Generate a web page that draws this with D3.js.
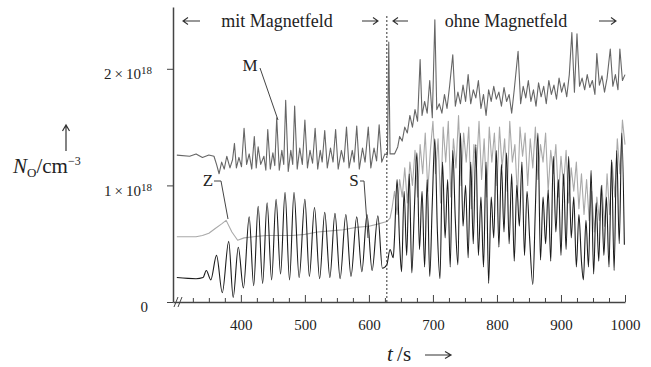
<!DOCTYPE html>
<html>
<head>
<meta charset="utf-8">
<script src="https://cdn.jsdelivr.net/npm/d3@7"></script>
<style>
  body { margin: 0; background: #fff; }
  svg { font-family: "Liberation Serif", "DejaVu Serif", serif; }
  .axis path, .axis line { stroke: #444; }
</style>
</head>
<body>
<svg id="chart" width="651" height="367"></svg>
<script>
// Werte in 10^18 cm^-3, Zeit in s
const seriesM = [
  [300,1.26],[320,1.25],[330,1.27],[340,1.24],[350,1.26],[358,1.25],[362,1.18],[366,1.1],[370,1.2],[374,1.14],
  [378,1.25],[383,1.15],[387,1.22],[390,1.36],[393,1.15],[397,1.24],[401,1.16],[405,1.49],[409,1.18],[413,1.27],
  [417,1.14],[421,1.42],[424,1.15],[427,1.33],[431,1.18],[436,1.25],[439,1.13],[442,1.48],[446,1.14],[450,1.28],
  [453,1.17],[456,1.58],[460,1.13],[464,1.3],[467,1.18],[470,1.73],[474,1.12],[478,1.3],[481,1.18],[484,1.68],
  [488,1.14],[492,1.32],[496,1.18],[500,1.56],[504,1.15],[508,1.3],[512,1.19],[516,1.49],[520,1.14],[524,1.3],
  [527,1.2],[531,1.47],[535,1.15],[540,1.32],[544,1.2],[548,1.48],[552,1.14],[557,1.3],[561,1.2],[565,1.5],
  [569,1.15],[574,1.3],[577,1.2],[581,1.51],[585,1.14],[590,1.32],[594,1.2],[599,1.5],[603,1.15],[608,1.32],
  [612,1.21],[616,1.52],[620,1.2],[625,1.27],[629,1.26],[631,2.23],[633,1.27],[640,1.27],[645,1.33],[648,1.42],
  [652,1.38],[656,1.5],[660,1.45],[664,1.6],[668,1.5],[672,1.65],[676,1.55],[680,2.08],[683,1.6],[687,1.72],
  [691,1.62],[695,1.9],[699,1.58],[703,2.42],[706,1.65],[710,1.7],[714,1.62],[718,1.78],[722,1.66],[726,1.85],
  [731,2.12],[735,1.68],[739,1.8],[743,1.7],[747,1.86],[751,1.72],[755,1.95],[759,1.7],[763,1.82],[767,1.75],
  [771,1.9],[775,1.66],[779,1.78],[783,1.6],[787,1.82],[791,1.72],[795,1.85],[799,1.74],[803,1.8],[807,1.68],
  [811,1.84],[815,1.72],[819,1.78],[823,1.62],[827,1.82],[833,2.15],[837,1.7],[841,1.85],[845,1.75],[849,1.9],
  [853,1.72],[857,1.82],[861,1.68],[865,1.88],[869,1.76],[873,1.85],[877,1.7],[881,1.9],[885,1.78],[889,1.86],
  [893,1.74],[897,1.92],[901,1.8],[905,1.88],[909,1.76],[913,1.95],[917,2.31],[921,1.8],[925,2.3],[929,1.85],
  [933,1.92],[937,1.82],[941,1.95],[945,1.84],[949,1.9],[953,1.78],[956,2.13],[960,1.86],[964,1.94],[968,1.8],
  [972,1.92],[977,2.17],[981,1.85],[985,1.95],[989,1.82],[992,2.17],[996,1.9],[1000,1.95]
];
const seriesZ = [
  [300,0.56],[330,0.56],[340,0.57],[350,0.59],[360,0.63],[370,0.67],[377,0.7],[386,0.6],[395,0.53],[405,0.55],
  [420,0.56],[440,0.57],[460,0.57],[480,0.57],[500,0.58],[520,0.6],[540,0.61],[560,0.62],[580,0.64],[600,0.65],
  [615,0.67],[628,0.69],[633,0.72],[636,0.8],[640,0.95],[644,0.75],[648,1.05],[652,0.9],[656,1.15],[660,0.85],
  [664,1.2],[668,1.0],[672,1.3],[676,0.9],[680,1.35],[684,1.1],[688,1.45],[692,0.95],[696,1.3],[700,1.55],
  [704,1.1],[708,1.4],[712,0.85],[716,1.5],[720,1.2],[724,1.55],[728,0.9],[732,1.4],[736,1.15],[740,1.6],
  [744,1.0],[748,1.45],[752,1.2],[756,1.5],[760,0.8],[764,1.35],[768,1.15],[772,1.55],[776,1.05],[780,1.4],
  [784,0.9],[788,1.5],[792,1.2],[796,1.45],[800,1.0],[804,1.5],[808,1.15],[812,1.4],[816,0.95],[820,1.55],
  [824,1.2],[828,1.35],[832,0.9],[836,1.5],[840,1.25],[844,1.45],[848,1.0],[852,1.4],[856,1.15],[860,1.5],
  [864,1.05],[868,1.35],[872,1.2],[876,1.45],[880,0.95],[884,1.3],[888,1.1],[892,1.35],[896,0.9],[900,1.25],
  [904,1.0],[908,1.3],[912,0.85],[916,1.15],[920,0.95],[924,1.2],[928,0.8],[932,1.1],[936,0.75],[940,1.05],
  [944,0.7],[948,0.95],[952,0.6],[956,0.9],[960,0.7],[964,1.0],[968,0.65],[972,1.1],[976,0.75],[980,1.2],
  [984,0.9],[988,1.4],[992,1.1],[996,1.56],[1000,1.35]
];
const seriesS = [
  [300,0.21],[330,0.2],[341,0.21],[346,0.27],[353,0.19],[362,0.4],[371,0.08],[381,0.52],[388,0.04],[396,0.47],
  [404,0.12],[413,0.73],[420,0.14],[427,0.82],[434,0.16],[441,0.85],[448,0.19],[455,0.88],[462,0.24],[469,0.94],
  [476,0.19],[483,0.94],[491,0.21],[500,0.88],[507,0.22],[515,0.81],[523,0.2],[531,0.77],[539,0.21],[547,0.76],
  [555,0.2],[564,0.75],[572,0.22],[581,0.73],[589,0.26],[597,0.75],[605,0.27],[614,0.74],[621,0.29],[628,0.32],
  [633,0.45],[638,0.38],[640,0.55],[644,1.05],[648,0.5],[651,0.26],[655,0.95],[659,0.4],[663,1.1],[667,0.25],
  [671,0.8],[675,1.28],[679,0.45],[683,0.95],[687,0.3],[691,1.05],[695,0.22],[699,0.85],[703,1.4],[707,0.6],
  [711,0.2],[715,1.2],[719,0.55],[723,1.05],[727,0.3],[731,1.3],[735,0.7],[739,0.32],[743,1.45],[747,0.65],
  [751,1.0],[755,0.38],[759,1.2],[763,0.5],[767,1.35],[771,0.4],[775,0.9],[779,0.3],[783,1.2],[787,0.16],
  [791,0.9],[795,0.55],[799,1.3],[803,0.47],[807,1.18],[811,0.6],[815,1.28],[819,0.5],[823,1.1],[827,0.35],
  [831,1.0],[835,0.65],[839,1.2],[843,0.4],[847,0.95],[851,0.55],[856,0.15],[860,0.8],[864,1.45],[868,0.36],
  [872,0.9],[876,0.5],[880,0.96],[884,0.35],[888,1.25],[892,0.6],[896,1.05],[900,0.4],[904,1.1],[908,0.45],
  [912,1.25],[916,0.55],[920,0.9],[924,0.3],[928,0.75],[932,0.35],[935,0.19],[939,0.7],[943,0.3],[947,1.13],
  [951,0.24],[955,0.85],[959,0.35],[963,1.0],[967,0.4],[971,0.9],[975,0.3],[979,1.22],[983,0.27],[987,1.3],
  [991,0.5],[995,1.45],[999,0.49]
];
const xMajorTicks = [400, 500, 600, 700, 800, 900, 1000];
const xMinorTicks = [325, 350, 375, 425, 450, 475, 525, 550, 575, 625, 650, 675, 725, 750, 775, 825, 850, 875, 925, 950, 975];
const yTicks = [0, 1, 2];
const switchTime = 628;

const svg = d3.select('#chart');
const x = d3.scaleLinear().domain([294, 1000]).range([173, 625]);
const y = d3.scaleLinear().domain([0, 2.53]).range([302, 7]);

// Kurven
const lineLin = d3.line().x(d => x(d[0])).y(d => y(d[1]));
const lineSmooth = d3.line().x(d => x(d[0])).y(d => y(d[1])).curve(d3.curveMonotoneX);

const curves = [
    { data: seriesZ, color: '#a9a9a9', gen: lineLin },
    { data: seriesS, color: '#1c1c1c', gen: lineSmooth },
    { data: seriesM, color: '#666666', gen: lineLin }
];
curves.forEach(c => {
    svg.append('path')
        .datum(c.data)
        .attr('d', c.gen)
        .attr('fill', 'none')
        .attr('stroke', c.color)
        .attr('stroke-width', 1.1)
        .attr('stroke-linejoin', 'round');
});

// Trennlinie (gestrichelt)
svg.append('line')
    .attr('x1', x(switchTime)).attr('x2', x(switchTime))
    .attr('y1', 16).attr('y2', 302)
    .attr('stroke', '#333')
    .attr('stroke-width', 1)
    .attr('stroke-dasharray', '2,2');

// x-Achse
const xAxisG = svg.append('g')
    .attr('class', 'axis')
    .attr('transform', 'translate(0, 302)');
xAxisG.call(d3.axisBottom(x).tickValues(xMajorTicks).tickSize(-7).tickSizeOuter(0).tickPadding(17).tickFormat(d3.format('d')));
xAxisG.attr('font-family', '"Liberation Serif", serif');
xAxisG.selectAll('text').style('font-size', '15px').attr('fill', '#222');
xAxisG.select('.domain').attr('stroke-width', 1.5);
svg.append('g')
    .attr('class', 'axis')
    .attr('transform', 'translate(0, 302)')
    .call(d3.axisBottom(x).tickValues(xMinorTicks).tickSize(-4).tickSizeOuter(0).tickFormat(''))
    .select('.domain').remove();

// y-Achse
const yAxisG = svg.append('g')
    .attr('class', 'axis')
    .attr('transform', 'translate(173, 0)');
yAxisG.call(d3.axisLeft(y).tickValues(yTicks).tickSize(6).tickSizeOuter(0).tickPadding(15).tickFormat(''));
yAxisG.attr('font-family', '"Liberation Serif", serif');
yAxisG.select('.domain').attr('stroke-width', 1.5);
yAxisG.selectAll('.tick text').each(function(d) {
    const t = d3.select(this)
        .attr('y', 5)
        .attr('fill', '#222')
        .style('font-size', '15px');
    if (d === 0) {
        t.attr('x', -25).text('0');
    } else {
        t.text(null);
        t.append('tspan').text(d + '\u2009\u00d7\u200910');
        t.append('tspan').attr('dy', '-0.45em').style('font-size', '11px').text('18');
    }
});

// Achsenbruch
[174, 178].forEach(bx => {
    svg.append('line')
        .attr('x1', bx).attr('y1', 307)
        .attr('x2', bx + 4).attr('y2', 297)
        .attr('stroke', '#444').attr('stroke-width', 1);
});

// Achsentitel
const yTitle = svg.append('text').attr('x', 13).attr('y', 173).attr('fill', '#222').style('font-size', '21px');
yTitle.append('tspan').style('font-style', 'italic').text('N');
yTitle.append('tspan').attr('dy', 4).style('font-size', '13px').text('O');
yTitle.append('tspan').attr('dy', -4).text('/cm');
yTitle.append('tspan').attr('dy', -8).style('font-size', '12px').text('\u22123');

svg.append('path')
    .attr('d', 'M66,151 L66,126 M62.5,131 L66,125 L69.5,131')
    .attr('fill', 'none').attr('stroke', '#333').attr('stroke-width', 1.2);

const xTitle = svg.append('text').attr('x', 387).attr('y', 361).attr('fill', '#222').style('font-size', '21px');
xTitle.append('tspan').style('font-style', 'italic').text('t');
xTitle.append('tspan').text('\u2009/s');
svg.append('path')
    .attr('d', 'M425,355 L450,355 M445,351.5 L451,355 L445,358.5')
    .attr('fill', 'none').attr('stroke', '#333').attr('stroke-width', 1.2);

// Bereichsbeschriftung oben
const topTexts = [
    { text: 'mit Magnetfeld', x: 277 },
    { text: 'ohne Magnetfeld', x: 506 }
];
topTexts.forEach(l => {
    svg.append('text')
        .attr('x', l.x).attr('y', 27)
        .attr('text-anchor', 'middle')
        .attr('fill', '#222')
        .style('font-size', '18px')
        .text(l.text);
});
// Pfeile: [von, bis]
const topArrows = [[200, 183], [362, 378], [408, 393], [599, 616]];
topArrows.forEach(a => {
    const dir = Math.sign(a[1] - a[0]);
    const tip = a[1];
    svg.append('path')
        .attr('d', `M${a[0]},21 L${tip},21 M${tip - dir * 5},17.5 L${tip},21 L${tip - dir * 5},24.5`)
        .attr('fill', 'none').attr('stroke', '#333').attr('stroke-width', 1.1);
});

// Kurvenbezeichnungen
const curveLabels = [
    { text: 'M', x: 250, y: 71, lead: [[260, 68], [278, 120]] },
    { text: 'Z', x: 208, y: 186, lead: [[214, 181], [221, 181], [228, 219]] },
    { text: 'S', x: 354, y: 186, lead: [[360, 181], [364, 181], [368, 238]] }
];
curveLabels.forEach(l => {
    svg.append('text')
        .attr('x', l.x).attr('y', l.y)
        .attr('text-anchor', 'middle')
        .attr('fill', '#222')
        .style('font-size', '17px')
        .text(l.text);
    svg.append('path')
        .attr('d', d3.line()(l.lead))
        .attr('fill', 'none')
        .attr('stroke', '#444')
        .attr('stroke-width', 1);
});
</script>
</body>
</html>
